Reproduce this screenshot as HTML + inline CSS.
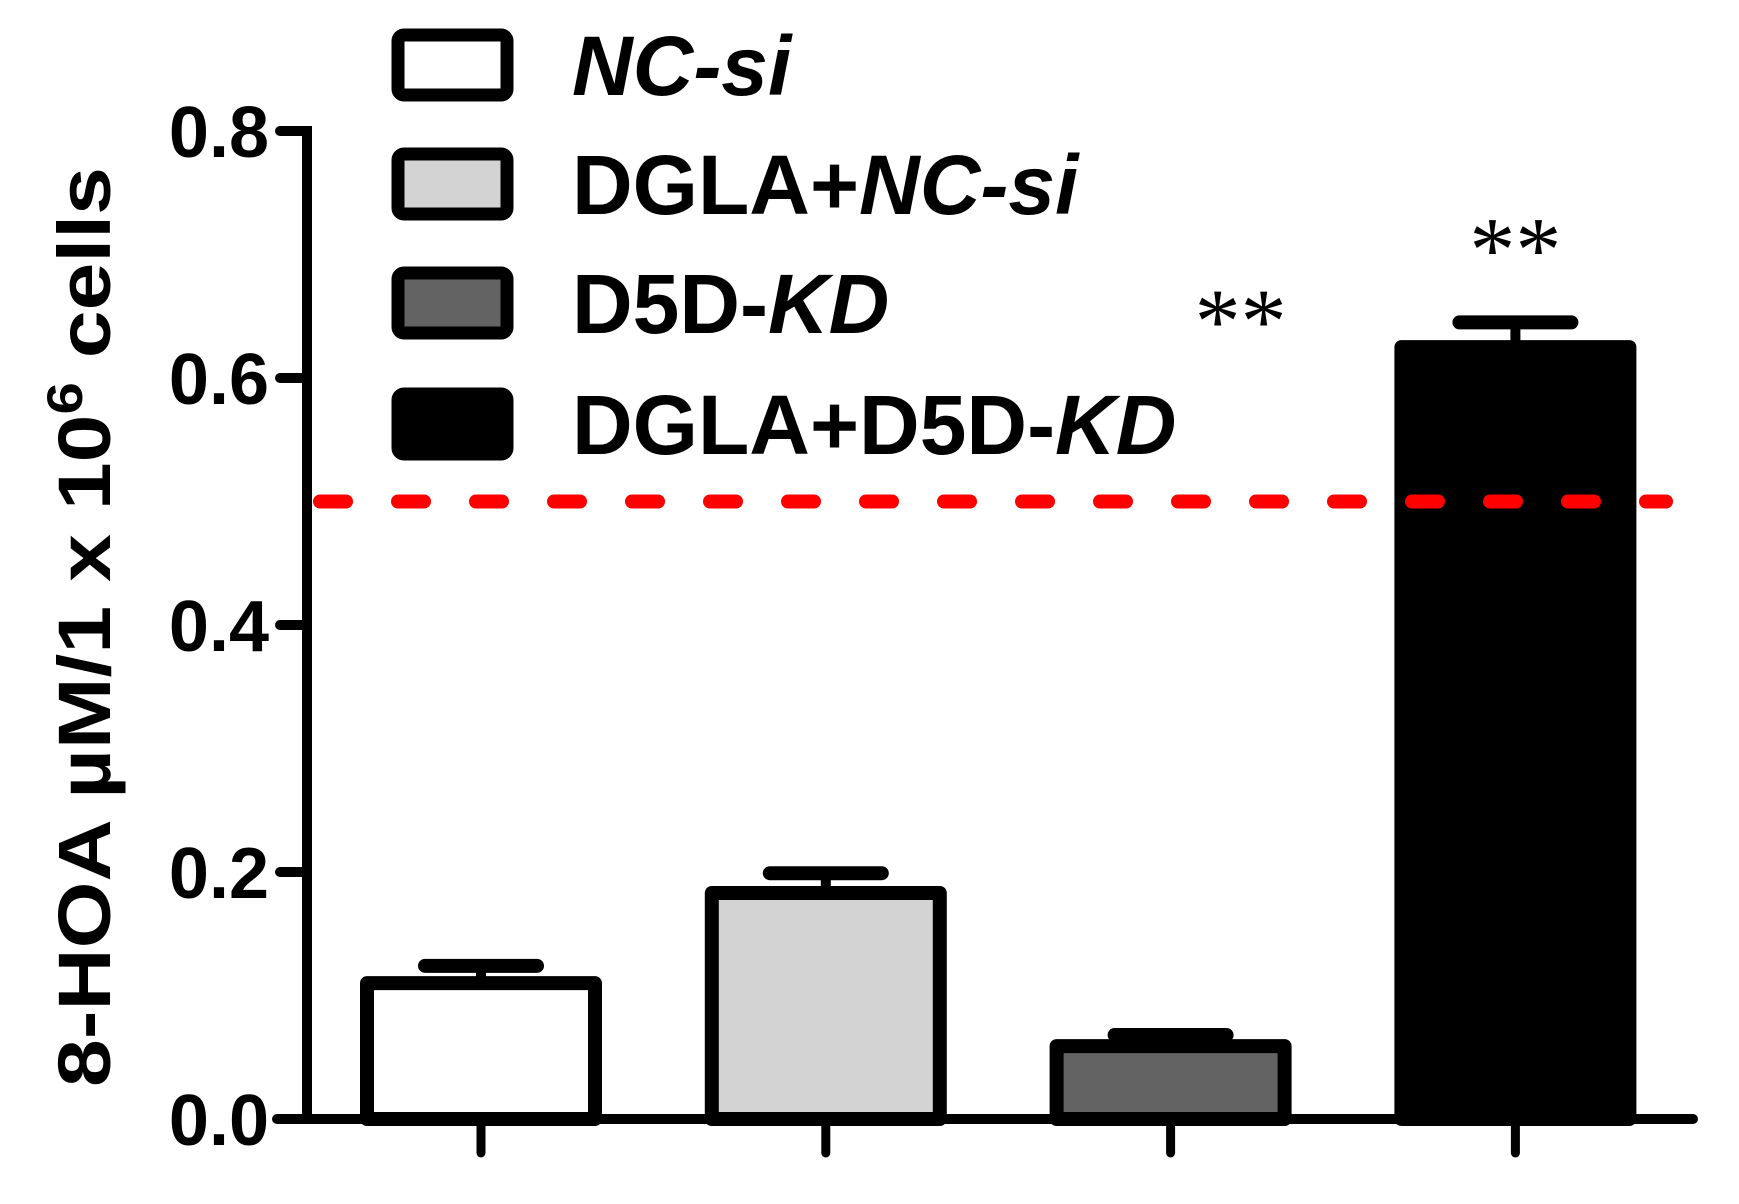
<!DOCTYPE html>
<html><head><meta charset="utf-8"><style>
html,body{margin:0;padding:0;background:#fff;}
svg{display:block;font-family:"Liberation Sans",sans-serif;}
</style></head><body>
<svg id="chart" width="1739" height="1204" viewBox="0 0 1739 1204" xmlns="http://www.w3.org/2000/svg">
<g id="axes"></g>
<g id="bars"></g>
<g id="legend"></g>
<text transform="translate(110,627) rotate(-90)" text-anchor="middle" font-size="74" font-weight="bold" textLength="920" lengthAdjust="spacingAndGlyphs">8-HOA µM/1 x 10<tspan dy="-28" font-size="50">6</tspan><tspan dy="28"> cells</tspan></text>
</svg>
<script>
const categories = ["NC-si", "DGLA+NC-si", "D5D-KD", "DGLA+D5D-KD"];
const values = [0.110, 0.183, 0.059, 0.625];
const errors = [0.014, 0.016, 0.009, 0.020];
const significance = ["", "", "**", "**"];
const yTicks = [0, 0.2, 0.4, 0.6, 0.8];
const yTickLabels = ["0.0", "0.2", "0.4", "0.6", "0.8"];
const thresholdValue = 0.5;
const fills = ["#ffffff", "#d3d3d3", "#636363", "#000000"];

const NS = "http://www.w3.org/2000/svg";
const x0 = 307, y0 = 1119, yTop = 131;
const yMax = 0.8;
const y = v => y0 - (v / yMax) * (y0 - yTop);
const xCenter = i => 481 + i * 344.8;
const barW = 228;
function mk(tag, attrs, parent) {
  const e = document.createElementNS(NS, tag);
  for (const k in attrs) e.setAttribute(k, attrs[k]);
  parent.appendChild(e);
  return e;
}
const axes = document.getElementById('axes');
const bars = document.getElementById('bars');
const legend = document.getElementById('legend');

let el = mk('line', {x1: x0, y1: yTop - 5, x2: x0, y2: y0 + 5, stroke: '#000', 'stroke-width': 10}, axes);


yTicks.forEach((t, i) => {
  const tk = mk('line', {x1: 280, y1: y(t), x2: x0, y2: y(t), stroke: '#000', 'stroke-width': 10, 'stroke-linecap': 'round'}, axes);
  
  
  const lb = mk('text', {x: 269, y: y(t) + 26, 'text-anchor': 'end', 'font-size': 72, 'font-weight': 'bold'}, axes);
  lb.textContent = yTickLabels[i];
  
  
});
el = mk('line', {x1: 277, y1: y0, x2: 1693, y2: y0, stroke: '#000', 'stroke-width': 10, 'stroke-linecap': 'round'}, axes);


categories.forEach((c, i) => {
  const tk = mk('line', {x1: xCenter(i), y1: y0, x2: xCenter(i), y2: 1153, stroke: '#000', 'stroke-width': 9, 'stroke-linecap': 'round'}, axes);
  
  
});
categories.forEach((c, i) => {
  const cx = xCenter(i);
  const top = y(values[i]);
  const eb = y(values[i] + errors[i]);
  const ln = mk('line', {x1: cx, y1: eb, x2: cx, y2: top, stroke: '#000', 'stroke-width': 10}, bars);
  
  
  const cap = mk('line', {x1: cx - 56, y1: eb, x2: cx + 56, y2: eb, stroke: '#000', 'stroke-width': 14, 'stroke-linecap': 'round'}, bars);
  
  
  const r = mk('rect', {x: cx - barW / 2, y: top, width: barW, height: y0 - top, fill: fills[i], stroke: '#000', 'stroke-width': 14, 'stroke-linejoin': 'round'}, bars);
  
  
  if (significance[i]) {
    const sx = i === 2 ? cx + 70 : cx;
    const sy = i === 2 ? y(values[i] + errors[i] + 0.553) : eb - 42;
    const s = mk('text', {x: sx, y: sy, 'text-anchor': 'middle', 'font-size': 92, 'font-family': '"Liberation Serif", serif'}, bars);
    s.textContent = significance[i];
    
    
  }
});
el = mk('line', {x1: 320, y1: y(thresholdValue), x2: 1666, y2: y(thresholdValue), stroke: '#ff0000', 'stroke-width': 14, 'stroke-linecap': 'round', 'stroke-dasharray': '26 52'}, bars);


const legendY = [65, 184, 303, 424];
const legendHTML = ['<tspan font-style="italic">NC-si</tspan>', 'DGLA+<tspan font-style="italic">NC-si</tspan>', 'D5D-<tspan font-style="italic">KD</tspan>', 'DGLA+D5D-<tspan font-style="italic">KD</tspan>'];
categories.forEach((c, i) => {
  const b = mk('rect', {x: 398, y: legendY[i] - 30, width: 109, height: 60, rx: 6, fill: fills[i], stroke: '#000', 'stroke-width': 13}, legend);
  
  
  const t = mk('text', {x: 572, y: legendY[i] + 30, 'font-size': 84, 'font-weight': 'bold'}, legend);
  t.innerHTML = legendHTML[i];
  
  
});
</script>
</body></html>
